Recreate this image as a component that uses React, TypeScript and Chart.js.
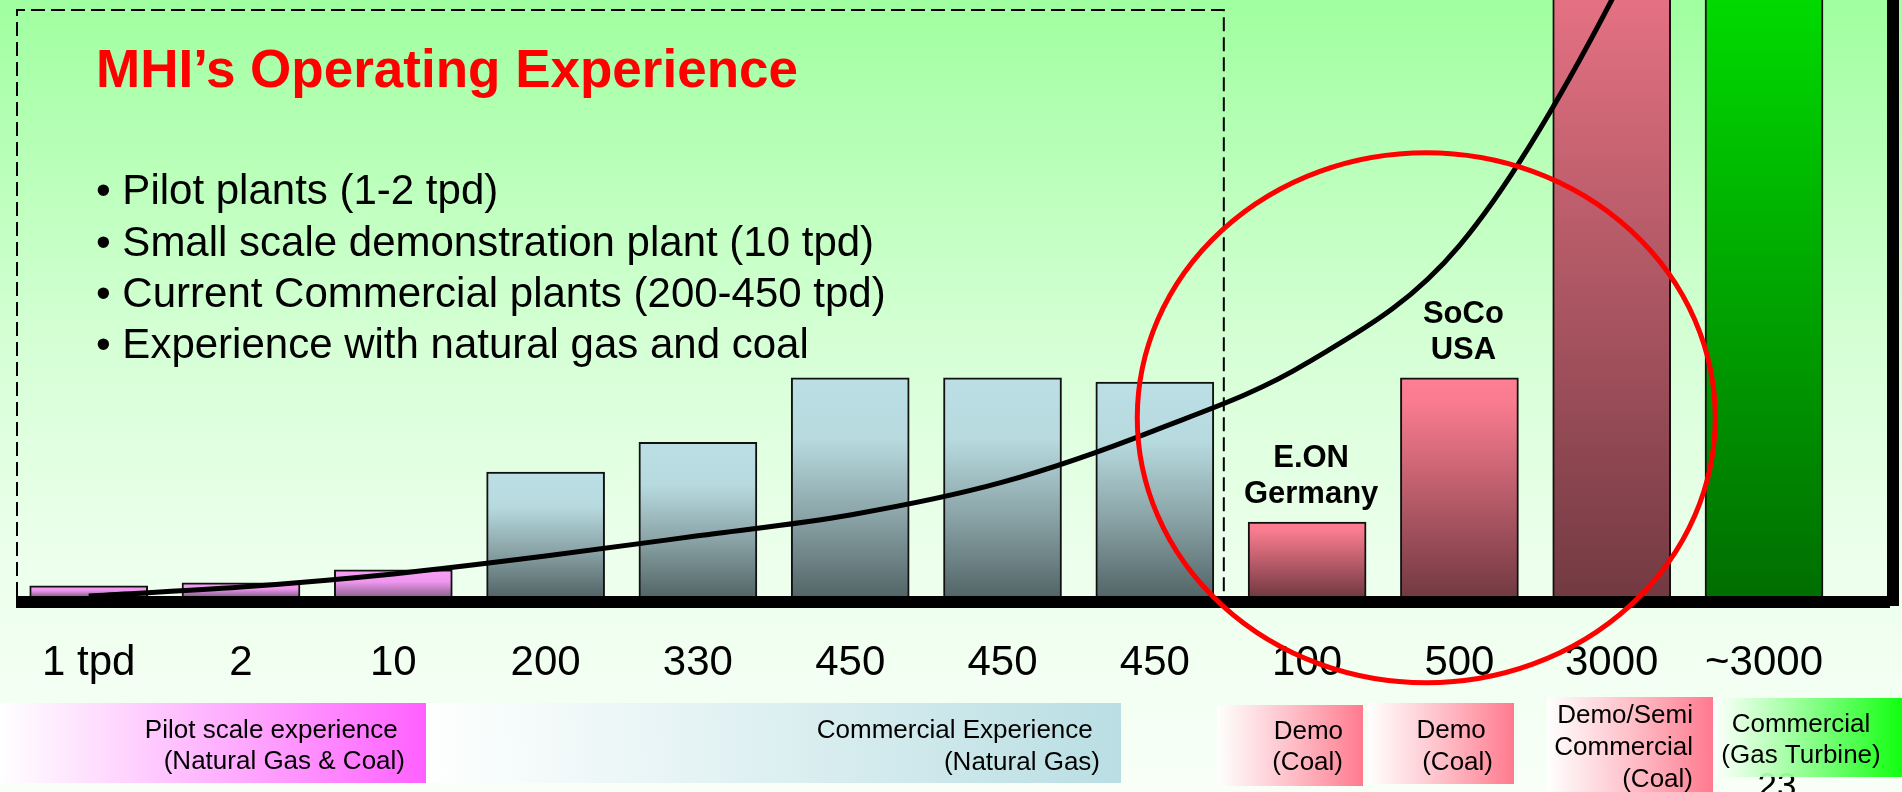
import React, { useEffect, useRef } from 'react';
import { Chart, registerables } from 'chart.js';

Chart.register(...registerables);

const FONT = "'Liberation Sans', Arial, Helvetica, sans-serif";

// ---------- data ----------
// capacity categories (tons per day)
const categories = ['1 tpd', '2', '10', '200', '330', '450', '450', '450', '100', '500', '3000', '~3000'];
// relative bar heights (0 = baseline, 100 = top of slide); last two run off the slide
const barHeights = [1.7, 2.2, 4.4, 20.8, 25.8, 36.6, 36.6, 35.9, 12.4, 36.6, 134, 134];
// experience group of every bar
const barGroups = ['pilot', 'pilot', 'pilot', 'commercial', 'commercial', 'commercial', 'commercial', 'commercial', 'demo', 'demo', 'demo', 'turbine'];
// scale-up trend curve, relative height at each category
const trendCurve = [0, 1.5, 3.7, 6.7, 10.1, 13.6, 19.1, 27.8, 39.1, 58.8, 100, 157];

const titleText = 'MHI’s Operating Experience';
const bulletLines = [
  'Pilot plants (1-2 tpd)',
  'Small scale demonstration plant (10 tpd)',
  'Current Commercial plants (200-450 tpd)',
  'Experience with natural gas and coal',
];
const calloutIndex = [8, 9];
const calloutLines = [['E.ON', 'Germany'], ['SoCo', 'USA']];
const footnoteLines = [
  ['Pilot scale experience ', '(Natural Gas & Coal)'],
  ['Commercial Experience ', '(Natural Gas)'],
  ['Demo', '(Coal)'],
  ['Demo ', '(Coal)'],
  ['Demo/Semi', 'Commercial', '(Coal)'],
  ['Commercial', '(Gas Turbine)'],
];
const pageNumber = '23';

// ---------- styles / layout ----------
const groupStops: Record<string, [number, string][]> = {
  pilot: [[0, '#f8a0f8'], [0.45, '#ef97ef'], [1, '#946494']],
  commercial: [[0, '#bbdfe4'], [0.28, '#b7dadf'], [0.65, '#88a1a4'], [1, '#536668']],
  demo: [[0, '#ff7e92'], [0.12, '#f87b8e'], [1, '#733a42']],
  turbine: [[0, '#00ff00'], [1, '#006e00']],
};
const footnoteLayout = [
  { x0: 0, x1: 426, y0: 703, y1: 783, tint: '#ff60ff', align: 'right', tx: 405, ys: [738, 769] },
  { x0: 426, x1: 1121, y0: 703, y1: 783, tint: '#b9dee3', align: 'right', tx: 1100, ys: [738, 770] },
  { x0: 1217, x1: 1363, y0: 705, y1: 786, tint: '#ff7a8e', align: 'right', tx: 1343, ys: [739, 770] },
  { x0: 1368, x1: 1514, y0: 703, y1: 784, tint: '#ff7a8e', align: 'right', tx: 1493, ys: [738, 770] },
  { x0: 1547, x1: 1713, y0: 697, y1: 800, tint: '#ff7a8e', align: 'right', tx: 1693, ys: [723, 755, 787] },
  { x0: 1714, x1: 1902, y0: 698, y1: 777, tint: '#10ff10', align: 'center', tx: 1801, ys: [732, 763] },
];

function barFill(ctx: any) {
  const i = ctx.dataIndex;
  const stops = groupStops[barGroups[i]] || groupStops.commercial;
  const chart = ctx.chart;
  if (!chart.chartArea || ctx.type !== 'data') return stops[0][1];
  const y = chart.scales.y;
  const top = y.getPixelForValue(barHeights[i]);
  const bottom = y.getPixelForValue(0);
  const g = chart.ctx.createLinearGradient(0, top, 0, bottom);
  stops.forEach(([o, c]) => g.addColorStop(o, c));
  return g;
}

const slidePlugin = {
  id: 'slide',
  beforeDraw(chart: any) {
    const { ctx, width, height } = chart;
    const g = ctx.createLinearGradient(0, 0, 0, height);
    g.addColorStop(0, '#a0ffa0');
    g.addColorStop(0.44, '#d6ffd6');
    g.addColorStop(0.7, '#ecffec');
    g.addColorStop(1, '#f8fff8');
    ctx.save();
    ctx.fillStyle = g;
    ctx.fillRect(0, 0, width, height);
    ctx.restore();
  },
  beforeDatasetsDraw(chart: any) {
    const { ctx } = chart;
    const y = chart.scales.y;
    const base = y.getPixelForValue(0);
    const bars = chart.getDatasetMeta(0).data;
    const b7 = bars[7];
    const right = Math.max(1178, b7.x + b7.width / 2 + 10);
    ctx.save();
    // dashed frame around MHI experience
    ctx.strokeStyle = '#000';
    ctx.lineWidth = 2;
    ctx.setLineDash([14, 6]);
    ctx.beginPath();
    ctx.moveTo(17, base);
    ctx.lineTo(17, 10);
    ctx.lineTo(right, 10);
    ctx.lineTo(right, base);
    ctx.stroke();
    ctx.setLineDash([]);
    // title
    ctx.fillStyle = '#ff0000';
    ctx.font = `bold 53px ${FONT}`;
    ctx.textAlign = 'left';
    ctx.textBaseline = 'alphabetic';
    ctx.fillText(titleText, 96, 87);
    // bullets
    ctx.fillStyle = '#000';
    ctx.font = `42px ${FONT}`;
    const ys = [204, 256, 307, 358];
    bulletLines.forEach((t, i) => ctx.fillText('• ' + t, 96, ys[i]));
    ctx.restore();
  },
  afterDatasetsDraw(chart: any) {
    const { ctx } = chart;
    const x = chart.scales.x;
    const y = chart.scales.y;
    const base = y.getPixelForValue(0);
    const bars = chart.getDatasetMeta(0).data;
    ctx.save();
    // heavy baseline and right frame (shadowed plot frame)
    ctx.fillStyle = '#000';
    ctx.fillRect(16, base, 1890 - 16, 12);
    ctx.fillRect(1887, 0, 12, base + 10);
    // callouts above the demo bars
    ctx.font = `bold 31px ${FONT}`;
    ctx.textAlign = 'center';
    ctx.textBaseline = 'alphabetic';
    calloutIndex.forEach((bi, k) => {
      const el = bars[bi];
      const lines = calloutLines[k];
      ctx.fillText(lines[0], el.x + 4, el.y - 55);
      ctx.fillText(lines[1], el.x + 4, el.y - 19);
    });
    // page number (partly hidden by the last box)
    ctx.font = `35px ${FONT}`;
    ctx.fillText(pageNumber, 1777, 797);
    // footnote boxes
    ctx.font = `26px ${FONT}`;
    footnoteLayout.forEach((b, k) => {
      const g = ctx.createLinearGradient(b.x0, 0, b.x1, 0);
      g.addColorStop(0, 'rgba(255,255,255,0.9)');
      g.addColorStop(1, b.tint);
      ctx.fillStyle = g;
      ctx.fillRect(b.x0, b.y0, b.x1 - b.x0, b.y1 - b.y0);
      ctx.fillStyle = '#000';
      ctx.textAlign = b.align as CanvasTextAlign;
      footnoteLines[k].forEach((t, j) => ctx.fillText(t, b.tx, b.ys[j]));
    });
    // red ellipse around the coal demonstration projects
    const cx = (x.getPixelForValue(8) + x.getPixelForValue(9)) / 2 + 43;
    const cy = y.getPixelForValue(29.9);
    ctx.strokeStyle = '#ff0000';
    ctx.lineWidth = 5;
    ctx.beginPath();
    ctx.ellipse(cx, cy, 289, 265, 0, 0, Math.PI * 2);
    ctx.stroke();
    ctx.restore();
  },
};

export default function App() {
  const ref = useRef<HTMLCanvasElement>(null);
  useEffect(() => {
    const canvas = ref.current;
    if (!canvas) return;
    const chart = new Chart(canvas, {
      type: 'bar',
      data: {
        datasets: [
          {
            type: 'bar',
            data: barHeights.map((v, i) => ({ x: i, y: v })),
            backgroundColor: barFill,
            borderColor: '#111',
            borderWidth: 2,
            barThickness: 118,
            order: 1,
          } as any,
          {
            type: 'line',
            data: trendCurve.map((v, i) => ({ x: i, y: v })),
            borderColor: '#000',
            borderWidth: 5,
            pointRadius: 0,
            cubicInterpolationMode: 'monotone',
            fill: false,
            order: 0,
          } as any,
        ],
      },
      options: {
        animation: false,
        responsive: false,
        devicePixelRatio: 1,
        events: [],
        layout: { padding: 0 },
        plugins: { legend: { display: false }, tooltip: { enabled: false }, title: { display: false } },
        scales: {
          x: {
            type: 'linear',
            min: -0.397,
            max: 11.906,
            offset: false,
            grid: { display: false, drawTicks: false },
            border: { display: false },
            afterBuildTicks: (axis: any) => {
              axis.ticks = categories.map((_, i) => ({ value: i }));
            },
            afterFit: (axis: any) => {
              axis.height = 196;
            },
            ticks: {
              autoSkip: false,
              maxRotation: 0,
              padding: 42,
              color: '#000',
              font: { family: FONT, size: 42 },
              callback: (v: any) => categories[v] ?? '',
            },
          },
          y: { type: 'linear', min: 0, max: 100, display: false },
        },
      } as any,
      plugins: [slidePlugin],
    });
    return () => chart.destroy();
  }, []);
  return (
    <div style={{ position: 'fixed', left: 0, top: 0, width: 1902, height: 792, overflow: 'hidden' }}>
      <canvas ref={ref} width={1902} height={792} style={{ display: 'block', width: 1902, height: 792 }} />
    </div>
  );
}
